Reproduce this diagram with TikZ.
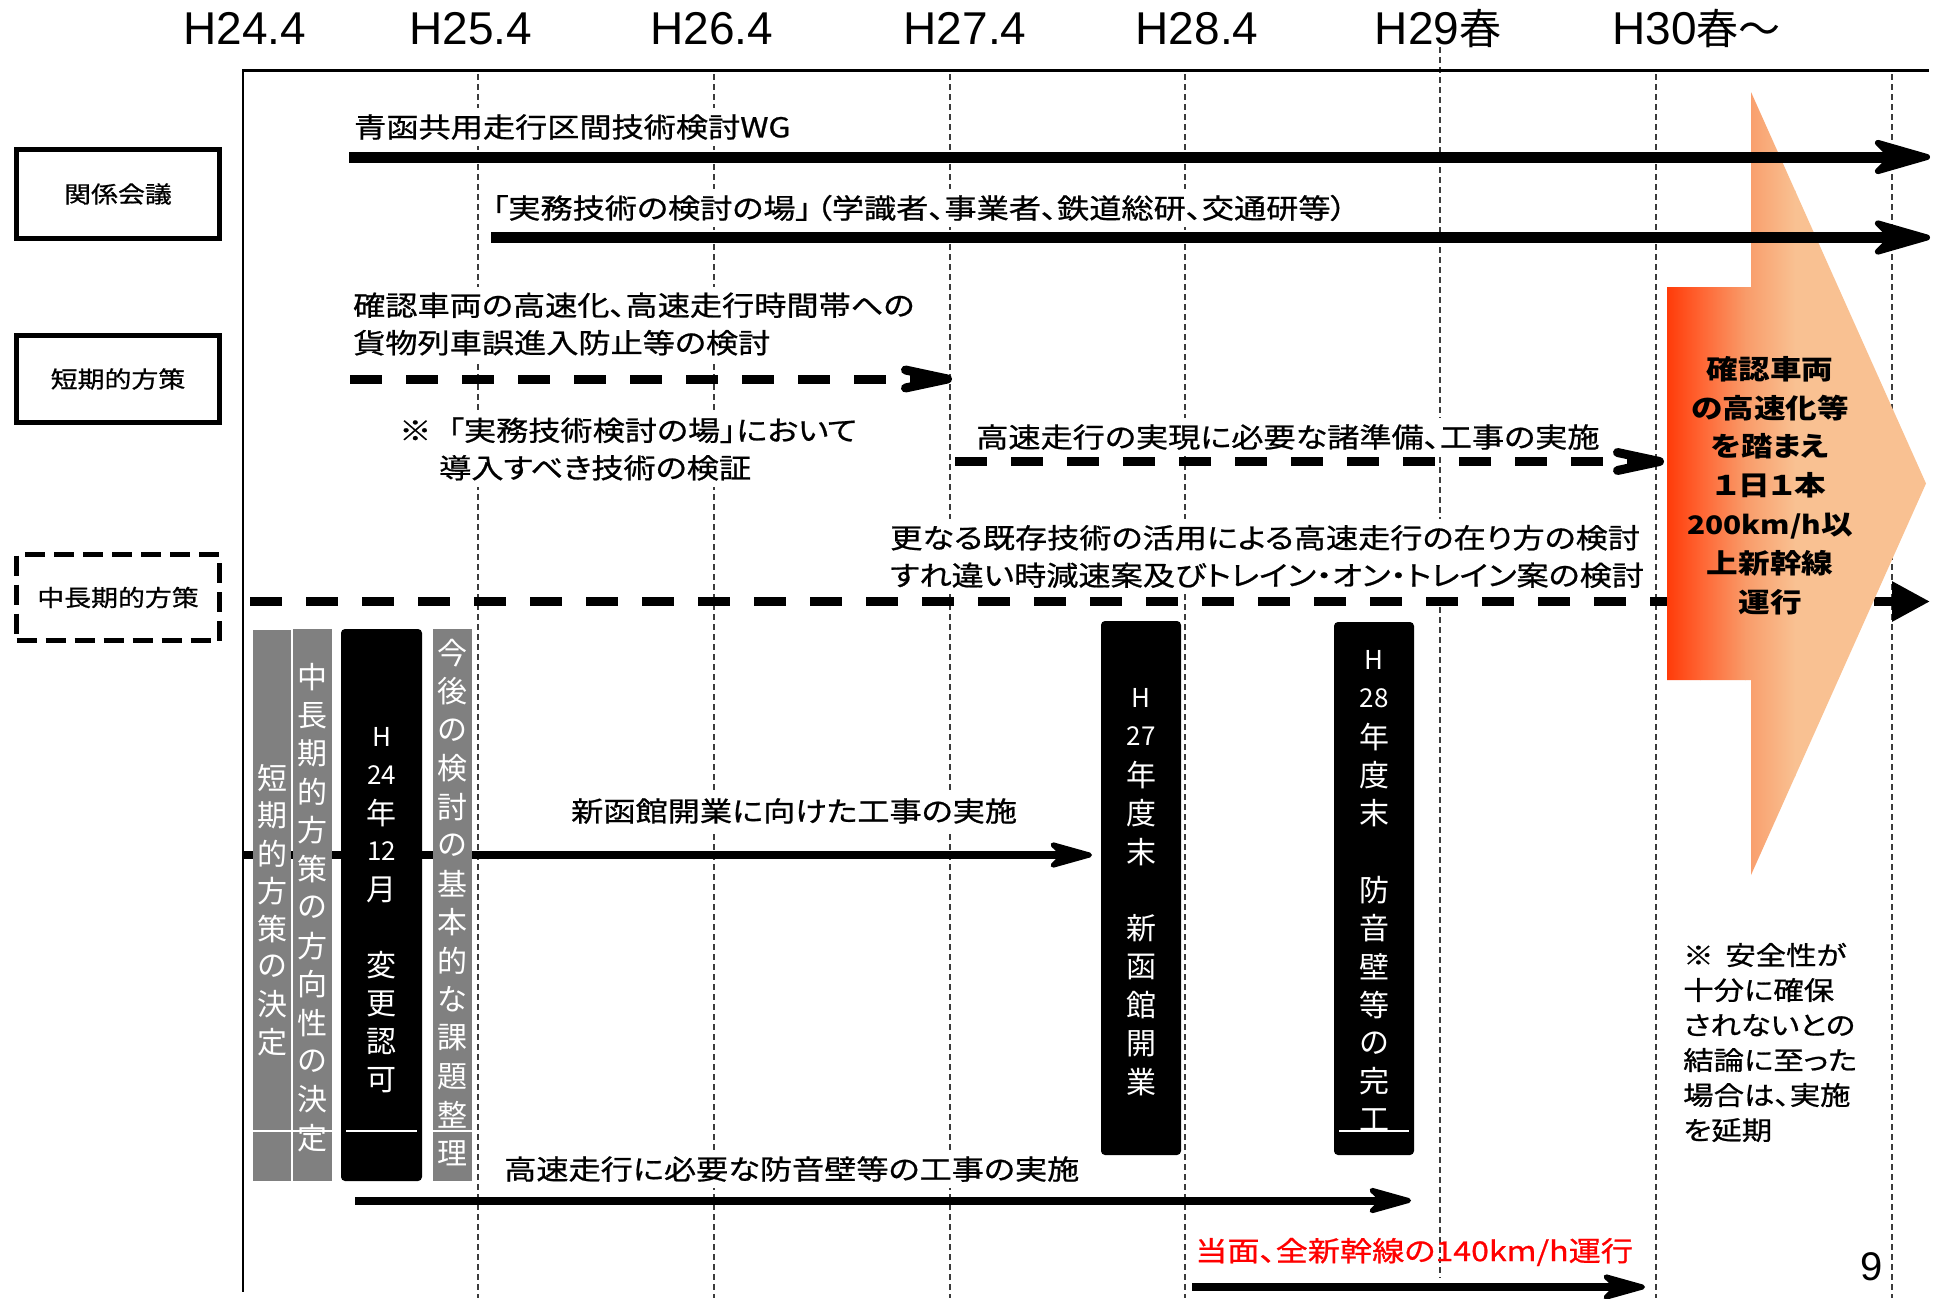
\documentclass[tikz,border=0pt]{standalone}
\usepackage{fontspec}
\usetikzlibrary{arrows.meta}
\newfontfamily\jp[FakeStretch=1.17,FakeBold=0.8,RawFeature=+palt]{Noto Sans CJK JP}
\newfontfamily\jpo[FakeStretch=1.17,RawFeature=+palt]{Noto Sans CJK JP}
\newfontfamily\jpv{Noto Sans CJK JP}
\newfontfamily\hd{Liberation Sans}
\definecolor{gridc}{RGB}{60,60,60}
\definecolor{barg}{RGB}{128,128,128}
\definecolor{oA}{RGB}{255,58,8}
\definecolor{oB}{RGB}{255,100,50}
\definecolor{oC}{RGB}{249,155,105}
\definecolor{oD}{RGB}{249,193,146}
\definecolor{redt}{RGB}{255,0,0}
\begin{document}
\begin{tikzpicture}[x=1pt,y=-1pt,
  gridln/.style={gridc, line width=1.3pt, dash pattern=on 6pt off 4pt},
  hdr/.style={font=\hd\fontsize{46}{46}\selectfont, anchor=base, inner sep=0pt},
  lbox/.style={draw, line width=5pt, minimum width=203pt, inner sep=0pt, font=\jp\fontsize{23}{23}\selectfont},
  lbl/.style={font=\jp\fontsize{27.5}{37.5}\selectfont, fill=white, inner xsep=4pt, inner ysep=6pt, anchor=west, align=left},
  thick arrow/.style={line width=11pt, -{Stealth[length=70pt,width=40pt,inset=20pt,line width=6pt,round]}},
  mid arrow/.style={line width=8pt, -{Stealth[length=54pt,width=30pt,inset=15pt,line width=5pt,round]}},
  dsh/.style={line width=9pt, dash pattern=on 32pt off 24pt},
  dsh arrow/.style={dsh, -{Straight Barb[length=42pt,width=18pt,round]}},
  vt/.style={font=\jpv\fontsize{30}{30}\selectfont, text=white, inner sep=0pt},
  vl/.style={font=\jpv\fontsize{26}{26}\selectfont, text=white, inner sep=0pt},
  sep/.style={white, line width=1.5pt}]
\useasboundingbox (0,0) rectangle (1937,1298);
\fill[white] (0,0) rectangle (1937,1298);

% grid lines
\foreach \gx/\gy/\gz in {478/74/1298,714/74/1298,950/74/1298,1185/74/1298,1440/47/1278,1656/74/1298,1892/74/1298}
  \draw[gridln] (\gx,\gy) -- (\gx,\gz);

% top line and axis
\draw[line width=3pt] (242,70) -- (1929,70);
\draw[line width=2.5pt] (243,70) -- (243,1292);

% header
\foreach \t/\x in {H24.4/245,H25.4/471,H26.4/712,H27.4/965,H28.4/1197}
  \node[hdr] (h-\x) at (\x,45) {\t};
\node[hdr] (h29) at (1438,45) {H29{\jpv\fontsize{42}{42}\selectfont 春}};
\node[hdr, anchor=base west] (h30) at (1612,45) {H30{\jpv\fontsize{42}{42}\selectfont 春～}};

% left boxes
\node[lbox, minimum height=89pt] (kk) at (118,194) {関係会議};
\node[lbox, minimum height=87pt] (ts) at (118,379) {短期的方策};
\node[lbox, minimum height=86pt, dash pattern=on 20pt off 9pt] (ct) at (118,597.5) {中長期的方策};

% labels
\node[lbl] (t1) at (350,127) {青函共用走行区間技術検討WG};
\node[lbl] (t2) at (488,208) {「実務技術の検討の場」\hspace{0.15em}（学識者、事業者、鉄道総研、交通研等）};
\node[lbl] (t3) at (349,324) {確認車両の高速化、高速走行時間帯への\\貨物列車誤進入防止等の検討};
\node[lbl] (t3n) at (395,449) {※\hspace{0.6em}「実務技術検討の場」において\\\hspace*{40pt}導入すべき技術の検証};
\node[lbl] (t4) at (972,437) {高速走行の実現に必要な諸準備、工事の実施};
\node[lbl] (t5) at (886,556.5) {更なる既存技術の活用による高速走行の在り方の検討\\すれ違い時減速案及びトレイン・オン・トレイン案の検討};
\node[lbl] (t6) at (567,811) {新函館開業に向けた工事の実施};
\node[lbl] (t7) at (500,1169) {高速走行に必要な防音壁等の工事の実施};
\node[lbl, fill=none, text=redt] (t8) at (1191,1252) {当面、全新幹線の140km/h運行};
\node[lbl, font=\jp\fontsize{26}{35}\selectfont] (note) at (1679,1042.5) {※\hspace{0.45em}安全性が\\十分に確保\\されないとの\\結論に至った\\場合は、実施\\を延期};
\node[font=\hd\fontsize{40}{40}\selectfont, inner sep=0pt] (pg) at (1872,1267) {9};

% row 5 dashed arrow (under the orange arrow)
\coordinate (r5s) at (250,601.5);
\coordinate (r5e) at (1930,601.5);
\draw[dsh, -{Triangle[length=38pt,width=38pt]}] (r5s) -- (r5e);

% orange block arrow
\begin{scope}
\clip (1667,287) -- (1751,287) -- (1751,92) -- (1926,483.5) -- (1751,875) -- (1751,680) -- (1667,680) -- cycle;
\shade[left color=oA, right color=oB] (1666,90) rectangle (1700.5,880);
\shade[left color=oB, right color=oC] (1700,90) rectangle (1745.5,880);
\shade[left color=oC, right color=oD] (1745,90) rectangle (1795.5,880);
\fill[oD] (1795,90) rectangle (1930,880);
\end{scope}
\node[font=\jpo\bfseries\fontsize{27}{38.8}\selectfont, align=center, inner sep=0pt] (ot) at (1770,485.5)
  {確認車両\\の高速化等\\を踏まえ\\１日１本\\{\fontsize{25.5}{38.8}\selectfont 200km/h}以\\上新幹線\\運行};

% arrows
\coordinate (r1s) at (349,157);   \coordinate (r1e) at (1930,157);
\coordinate (r2s) at (491,237.5); \coordinate (r2e) at (1930,237.5);
\coordinate (r3s) at (350,379);   \coordinate (r3e) at (952,379);
\coordinate (r4s) at (955,461.5); \coordinate (r4e) at (1664,461.5);
\coordinate (r6s) at (243,855);   \coordinate (r6e) at (1092,855);
\coordinate (r7s) at (355,1200.5);\coordinate (r7e) at (1411,1200.5);
\coordinate (r8s) at (1192,1287); \coordinate (r8e) at (1645,1287);
\draw[thick arrow] (r1s) -- (r1e);
\draw[thick arrow] (r2s) -- (r2e);
\draw[dsh arrow] (r3s) -- (r3e);
\draw[dsh arrow] (r4s) -- (r4e);
\draw[mid arrow] (r6s) -- (r6e);
\draw[mid arrow] (r7s) -- (r7e);
\draw[mid arrow] (r8s) -- (r8e);

% vertical bars
\fill[barg] (253,630) rectangle (291,1181);
\fill[barg] (293,629) rectangle (332,1181);
\fill[black, rounded corners=4pt] (341,629) rectangle (422,1181);
\fill[barg] (433,629) rectangle (472,1181);
\fill[black, rounded corners=4pt] (1101,621) rectangle (1181,1155);
\fill[black, rounded corners=4pt] (1334,622) rectangle (1414,1155);

\foreach \c [count=\i from 0] in {短,期,的,方,策,の,決,定}
  \node[vt] (b1-\i) at (272,778+\i*37.7) {\c};
\foreach \c [count=\i from 0] in {中,長,期,的,方,策,の,方,向,性,の,決,定}
  \node[vt] (b2-\i) at (312.5,677+\i*38.4) {\c};
\foreach \c/\k in {H/0,24/1,12/3}
  \node[vl] (b3-\k) at (381.5,737+\k*38.1) {\c};
\foreach \c/\k in {年/2,月/4,変/6,更/7,認/8,可/9}
  \node[vt] (b3-\k) at (381.5,737+\k*38.1) {\c};
\foreach \c [count=\i from 0] in {今,後,の,検,討,の,基,本,的,な,課,題,整,理}
  \node[vt] (b4-\i) at (452.5,653+\i*38.5) {\c};
\foreach \c/\k in {H/0,27/1}
  \node[vl] (b5-\k) at (1141,698+\k*38.4) {\c};
\foreach \c/\k in {年/2,度/3,末/4,新/6,函/7,館/8,開/9,業/10}
  \node[vt] (b5-\k) at (1141,698+\k*38.4) {\c};
\foreach \c/\k in {H/0,28/1}
  \node[vl] (b6-\k) at (1374,660+\k*38.3) {\c};
\foreach \c/\k in {年/2,度/3,末/4,防/6,音/7,壁/8,等/9,の/10,完/11,工/12}
  \node[vt] (b6-\k) at (1374,660+\k*38.3) {\c};

% thin white separators in the bars
\draw[sep] (253,1131) -- (291,1131);
\draw[sep] (293,1131) -- (332,1131);
\draw[sep] (346,1131) -- (417,1131);
\draw[sep] (433,1131) -- (472,1131);
\draw[sep] (1339,1131) -- (1409,1131);
\end{tikzpicture}
\end{document}
